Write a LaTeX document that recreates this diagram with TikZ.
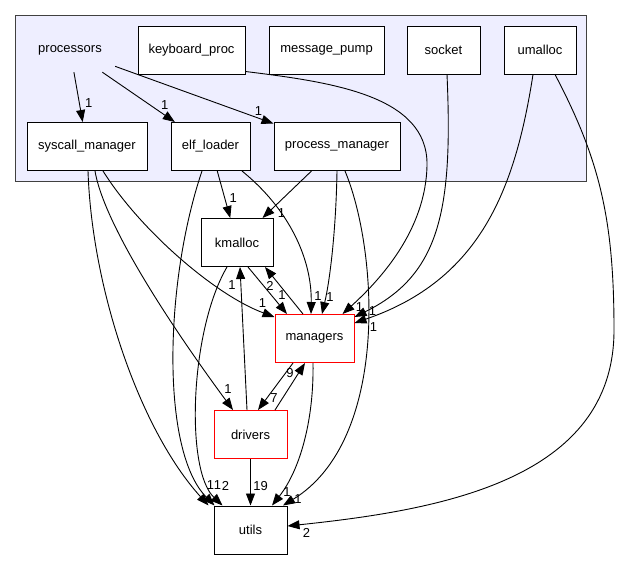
\documentclass[tikz,border=0pt]{standalone}
\usepackage{fontspec}
\setmainfont{Liberation Sans}
\usetikzlibrary{positioning,arrows.meta}
\definecolor{clusterbg}{HTML}{EEEEFF}

\begin{document}
\begin{tikzpicture}[x=1pt, y=-1pt,
  every node/.style={font=\fontsize{13}{15}\selectfont},
  dir/.style   ={draw, line width=1pt, fill=white, minimum height=48pt, inner sep=2pt},
  reddir/.style={dir, draw=red},
  grp/.style   ={draw=black!75, line width=1pt, fill=clusterbg,
                 minimum width=571pt, minimum height=166pt},
  lab/.style   ={inner sep=0pt},
  dep/.style   ={-{Triangle[length=12pt,width=9pt]}, line width=0.9pt}]

\useasboundingbox (0,0) rectangle (620,560);

%% the processors group and its sub directories
\node[grp] (grp) at (300.5,98) {};
\node[minimum width=90pt, minimum height=44pt] (procs) at (70,50) {processors};
\node[dir, minimum width=107pt] (kbd)  at (191.5,50)  {keyboard\_proc};
\node[dir, minimum width=115pt] (msg)  at (326.5,50)  {message\_pump};
\node[dir, minimum width=73pt]  (sock) at (443.5,50)  {socket};
\node[dir, minimum width=72pt]  (umal) at (540,50)    {umalloc};
\node[dir, minimum width=120pt] (sysc) at (87,146.5)  {syscall\_manager};
\node[dir, minimum width=79pt]  (elf)  at (210.5,146.5) {elf\_loader};
\node[dir, minimum width=126pt] (pmgr) at (337,146.5) {process\_manager};

%% the other directories
\node[dir, minimum width=72pt]    (kmal) at (237,242.5)   {kmalloc};
\node[reddir, minimum width=79pt] (mgrs) at (314.5,338.5) {managers};
\node[reddir, minimum width=73pt] (drv)  at (250.5,434.5) {drivers};
\node[dir, minimum width=73pt]    (utl)  at (250.5,530)   {utils};

\draw[dep] (procs) -- node[lab, pos=1, xshift=6pt, yshift=19pt] {1} (sysc);
\draw[dep] (procs) -- node[lab, pos=1, xshift=-10pt, yshift=17pt] {1} (elf);
\draw[dep] (procs) -- node[lab, pos=1, xshift=-15pt, yshift=13pt] {1} (pmgr);

\draw[dep] ([xshift=1pt]sysc.south) .. controls (92,290) and (140,430) ..
  ([xshift=-5pt]utl.north west) node[lab, xshift=2pt, yshift=20pt] {1};
\draw[dep] ([xshift=8pt]sysc.south) .. controls (105,230) and (185,345) ..
  ([xshift=-17.5pt]drv.north) node[lab, xshift=-5pt, yshift=21pt] {1};
\draw[dep] ([xshift=16pt]sysc.south) .. controls (140,230) and (215,295) ..
  ([yshift=-3pt]mgrs.north west) node[lab, xshift=-12pt, yshift=14pt] {1};

\draw[dep] (elf) -- node[lab, pos=1, xshift=3pt, yshift=20pt] {1} (kmal);
\draw[dep] ([xshift=-8.5pt]elf.south) .. controls (165,280) and (160,450) ..
  ([xshift=1pt]utl.north west) node[lab, xshift=3pt, yshift=20pt] {1};
\draw[dep] ([xshift=31.5pt]elf.south) .. controls (290,210) and (312,260) ..
  ([xshift=-3.5pt]mgrs.north) node[lab, xshift=7pt, yshift=18pt] {1};

\draw[dep] (pmgr) -- node[lab, pos=1, xshift=19pt, yshift=5pt] {1} (kmal);
\draw[dep] (pmgr.south) .. controls (336,230) and (330,280) ..
  ([xshift=7.5pt]mgrs.north) node[lab, xshift=8pt, yshift=17pt] {1};
\draw[dep] ([xshift=8pt]pmgr.south) .. controls (378,250) and (390,440) ..
  ([xshift=32.5pt]utl.north) node[lab, xshift=15pt, yshift=6pt] {1};

\draw[dep] ([xshift=11pt]kmal.south) -- ([xshift=-27.5pt]mgrs.north)
  node[lab, xshift=-5pt, yshift=19pt] {1};
\draw[dep] ([xshift=-11.5pt]mgrs.north) -- ([xshift=28pt]kmal.south)
  node[lab, xshift=5pt, yshift=-19pt] {2};
\draw[dep] ([xshift=-10pt]kmal.south) .. controls (190,330) and (185,470) ..
  ([xshift=9pt]utl.north west) node[lab, xshift=3pt, yshift=20pt] {2};

\draw[dep] ([xshift=-3.5pt]drv.north) -- ([xshift=3pt]kmal.south)
  node[lab, xshift=-8pt, yshift=-18pt] {1};
\draw[dep] ([xshift=-21.5pt]mgrs.south) -- ([xshift=7.5pt]drv.north)
  node[lab, xshift=16pt, yshift=12pt] {7};
\draw[dep] ([xshift=24.5pt]drv.north) -- ([xshift=-9.5pt]mgrs.south)
  node[lab, xshift=-15pt, yshift=-10pt] {9};
\draw[dep] ([xshift=-1.5pt]mgrs.south) .. controls (314,420) and (300,470) ..
  ([xshift=21.5pt]utl.north) node[lab, xshift=15pt, yshift=13pt] {1};
\draw[dep] (drv) -- node[lab, pos=1, xshift=10pt, yshift=19pt] {19} (utl);

%% long edges from the right part of the group
\draw[dep] ([yshift=3pt]kbd.south east) .. controls (330,82) and (428,95) .. (427,165)
  .. controls (426,230) and (380,280) ..
  ([xshift=-12pt]mgrs.north east) node[lab, xshift=17pt, yshift=7pt] {1};
\draw[dep] ([xshift=3.5pt]sock.south) .. controls (453,210) and (440,275) ..
  ([yshift=-3pt]mgrs.north east) node[lab, xshift=18pt, yshift=6pt] {1};
\draw[dep] ([xshift=-7pt]umal.south) .. controls (515,190) and (480,280) ..
  ([yshift=-9pt]mgrs.north east) node[lab, xshift=19pt, yshift=-4pt] {1};
\draw[dep] ([xshift=15pt]umal.south) .. controls (600,160) and (614,220) .. (614,330)
  .. controls (614,480) and (440,510) ..
  ([yshift=4pt]utl.east) node[lab, xshift=19pt, yshift=-7pt] {2};
\end{tikzpicture}
\end{document}
